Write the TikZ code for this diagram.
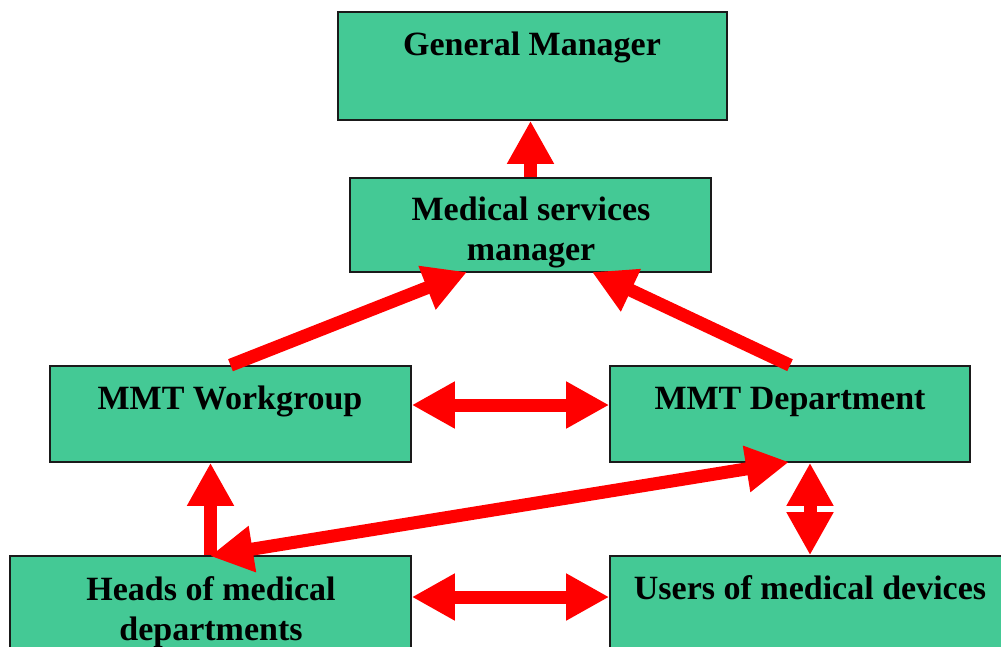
\documentclass[tikz,border=0pt]{standalone}
\usepackage{fontspec}
\setmainfont{Liberation Serif}
\usetikzlibrary{arrows.meta}
\definecolor{boxgreen}{HTML}{44C995}
\definecolor{boxline}{HTML}{1A1A1A}
\begin{document}
\begin{tikzpicture}[x=1pt,y=-1pt,
  box/.style={draw=boxline, line width=1.6pt, fill=boxgreen, inner sep=0pt},
  lbl/.style={font=\fontsize{34}{40}\selectfont\bfseries, inner sep=0pt, align=center},
  tipshape/.style={},
  arr/.style={draw=red, line width=13pt, -{Triangle[length=43pt,width=44pt]}},
  darr/.style={draw=red, line width=13pt, {Triangle[length=43pt,width=44pt]}-{Triangle[length=43pt,width=44pt]}}]
\useasboundingbox (0,0) rectangle (1001,646);
\clip (0,0) rectangle (1001,646);
% boxes
\node[box, minimum width=389pt, minimum height=108pt] (gm) at (532.5,66) {};
\node[box, minimum width=361pt, minimum height=94pt] (msm) at (530.5,225) {};
\node[box, minimum width=361pt, minimum height=96pt] (wg) at (230.5,414) {};
\node[box, minimum width=360pt, minimum height=96pt] (dept) at (790,414) {};
\node[box, minimum width=401pt, minimum height=144pt] (heads) at (210.5,628) {};
\node[box, minimum width=440pt, minimum height=144pt] (users) at (830,628) {};
% labels
\node[lbl, anchor=base] (gmt) at (532,55) {General Manager};
\node[lbl, anchor=north] (msmt) at (531,197) {Medical services\\manager};
\node[lbl, anchor=base] (wgt) at (230,409) {MMT Workgroup};
\node[lbl, anchor=base] (deptt) at (790,409) {MMT Department};
\node[lbl, anchor=north] (headst) at (211,576) {Heads of medical\\departments};
\node[lbl, anchor=base] (userst) at (810,599) {Users of medical devices};
% connectors
\coordinate (wgmsm) at (467,272);
\coordinate (deptmsm) at (592,272);
\coordinate (deptd) at (789,462);
\coordinate (headsd) at (210,556);
\draw[arr] (msm.north) -- (msm.north |- gm.south);
\draw[arr] (wg.north) -- (wgmsm);
\draw[arr] (dept.north) -- (deptmsm);
\draw[darr] ([yshift=9pt]wg.east) -- ([yshift=9pt]dept.west);
\draw[arr] (heads.north) -- (heads.north |- wg.south);
\draw[darr] (headsd) -- (deptd);
\draw[darr] (dept.south -| 810,0) -- (users.north -| 810,0);
\draw[darr] (heads.east |- 0,597) -- (users.west |- 0,597);
\end{tikzpicture}
\end{document}
